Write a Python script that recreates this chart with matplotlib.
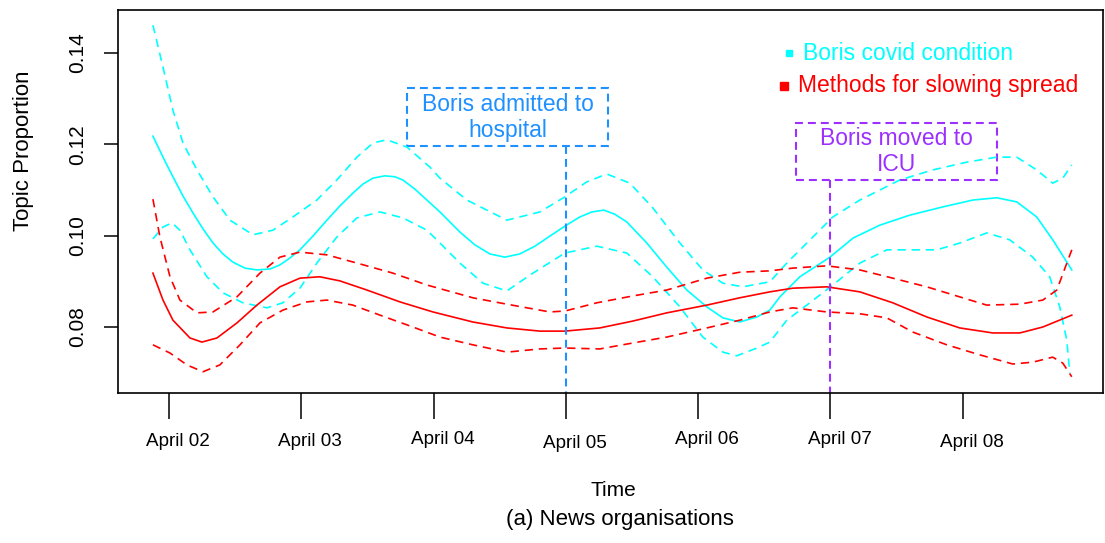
import matplotlib
matplotlib.use("Agg")
import matplotlib.pyplot as plt
from matplotlib.patches import Rectangle
from matplotlib.transforms import ScaledTranslation

plt.rcParams["font.family"] = ["Liberation Sans", "DejaVu Sans"]

# x is days after April 02 (0 = April 02)
tick_days = [0, 1, 2, 3, 4, 5, 6]
tick_labels = ["April 02", "April 03", "April 04", "April 05", "April 06", "April 07", "April 08"]

# Boris covid condition (cyan)
cyan_mean_x = [-0.121, -0.045, 0.030, 0.106, 0.181, 0.257, 0.333, 0.408, 0.484, 0.574, 0.665,
               0.763, 0.839, 0.914, 0.990, 1.088, 1.194, 1.292, 1.390, 1.466, 1.542, 1.632,
               1.708, 1.768, 1.859, 1.950, 2.048, 2.199, 2.312, 2.426, 2.539, 2.652, 2.766,
               2.879, 2.993, 3.106, 3.197, 3.287, 3.370, 3.461, 3.612, 3.763, 3.914, 4.066,
               4.187, 4.315, 4.444, 4.542, 4.618, 4.769, 4.996, 5.172, 5.373, 5.600, 5.849,
               6.076, 6.257, 6.408, 6.559, 6.680, 6.824]
cyan_mean = [0.1218, 0.1172, 0.1129, 0.1087, 0.1050, 0.1015, 0.0984, 0.0960, 0.0942, 0.0929,
             0.0925, 0.0927, 0.0936, 0.0951, 0.0969, 0.0999, 0.1034, 0.1065, 0.1093, 0.1113,
             0.1126, 0.1131, 0.1129, 0.1122, 0.1102, 0.1078, 0.1052, 0.1008, 0.0980, 0.0960,
             0.0953, 0.0960, 0.0977, 0.0999, 0.1021, 0.1041, 0.1052, 0.1056, 0.1047, 0.1030,
             0.0984, 0.0931, 0.0881, 0.0844, 0.0820, 0.0811, 0.0822, 0.0837, 0.0866, 0.0910,
             0.0953, 0.0995, 0.1023, 0.1045, 0.1063, 0.1078, 0.1083, 0.1074, 0.1041, 0.0991,
             0.0925]

cyan_upper_x = [-0.121, -0.045, 0.030, 0.106, 0.212, 0.333, 0.461, 0.635, 0.786, 0.937, 1.118,
                1.269, 1.421, 1.542, 1.647, 1.799, 1.973, 2.048, 2.252, 2.554, 2.804, 2.993,
                3.159, 3.310, 3.484, 3.657, 3.862, 4.035, 4.187, 4.338, 4.542, 4.670, 4.867,
                5.018, 5.222, 5.524, 5.773, 6.030, 6.257, 6.408, 6.559, 6.680, 6.756, 6.824]
cyan_upper = [0.1461, 0.1369, 0.1275, 0.1203, 0.1144, 0.1085, 0.1034, 0.1002, 0.1012, 0.1041,
              0.1078, 0.1122, 0.1172, 0.1203, 0.1210, 0.1194, 0.1150, 0.1126, 0.1078, 0.1034,
              0.1052, 0.1085, 0.1118, 0.1135, 0.1115, 0.1061, 0.0984, 0.0925, 0.0896, 0.0888,
              0.0899, 0.0940, 0.0997, 0.1041, 0.1078, 0.1122, 0.1144, 0.1161, 0.1172, 0.1172,
              0.1144, 0.1115, 0.1126, 0.1155]

cyan_lower_x = [-0.121, -0.045, 0.023, 0.083, 0.159, 0.287, 0.408, 0.559, 0.741, 0.861, 0.990,
                1.118, 1.269, 1.421, 1.595, 1.768, 1.950, 2.048, 2.199, 2.373, 2.554, 2.751,
                2.993, 3.234, 3.461, 3.657, 3.862, 4.035, 4.187, 4.293, 4.444, 4.542, 4.670,
                4.844, 5.018, 5.222, 5.426, 5.600, 5.804, 5.979, 6.181, 6.355, 6.529, 6.657,
                6.733, 6.786, 6.809]
cyan_lower = [0.0993, 0.1019, 0.1028, 0.1012, 0.0969, 0.0910, 0.0875, 0.0853, 0.0842, 0.0853,
              0.0885, 0.0940, 0.0997, 0.1039, 0.1052, 0.1039, 0.1012, 0.0984, 0.0940, 0.0896,
              0.0879, 0.0918, 0.0962, 0.0977, 0.0962, 0.0910, 0.0844, 0.0778, 0.0745, 0.0737,
              0.0754, 0.0767, 0.0815, 0.0853, 0.0892, 0.0940, 0.0969, 0.0969, 0.0969, 0.0984,
              0.1006, 0.0991, 0.0953, 0.0910, 0.0844, 0.0772, 0.0699]

# Methods for slowing spread (red)
red_mean_x = [-0.121, -0.045, 0.030, 0.159, 0.249, 0.363, 0.514, 0.665, 0.839, 0.990, 1.141,
              1.292, 1.496, 1.746, 1.995, 2.297, 2.554, 2.804, 2.993, 3.257, 3.506, 3.763,
              4.066, 4.315, 4.542, 4.715, 4.972, 5.222, 5.471, 5.728, 5.977, 6.227, 6.431,
              6.605, 6.824]
red_mean = [0.0918, 0.0859, 0.0815, 0.0776, 0.0767, 0.0776, 0.0809, 0.0848, 0.0888, 0.0907,
            0.0910, 0.0901, 0.0881, 0.0855, 0.0833, 0.0811, 0.0798, 0.0791, 0.0791, 0.0798,
            0.0813, 0.0831, 0.0848, 0.0864, 0.0877, 0.0885, 0.0888, 0.0877, 0.0853, 0.0822,
            0.0798, 0.0787, 0.0787, 0.0800, 0.0826]

red_upper_x = [-0.121, -0.068, 0.008, 0.083, 0.212, 0.333, 0.514, 0.688, 0.839, 0.990, 1.194,
               1.421, 1.693, 1.950, 2.297, 2.554, 2.879, 2.993, 3.234, 3.506, 3.763, 4.066,
               4.315, 4.542, 4.715, 4.972, 5.222, 5.471, 5.728, 5.977, 6.181, 6.431, 6.605,
               6.711, 6.824]
red_upper = [0.1080, 0.0997, 0.0910, 0.0859, 0.0831, 0.0833, 0.0866, 0.0918, 0.0953, 0.0964,
             0.0958, 0.0940, 0.0918, 0.0892, 0.0864, 0.0850, 0.0833, 0.0835, 0.0853, 0.0868,
             0.0881, 0.0907, 0.0920, 0.0923, 0.0929, 0.0934, 0.0925, 0.0907, 0.0888, 0.0866,
             0.0848, 0.0850, 0.0859, 0.0881, 0.0969]

red_lower_x = [-0.121, 0.008, 0.136, 0.257, 0.385, 0.537, 0.688, 0.861, 1.043, 1.194, 1.390,
               1.595, 1.844, 2.048, 2.297, 2.554, 2.804, 2.993, 3.257, 3.506, 3.763, 4.066,
               4.315, 4.542, 4.715, 4.972, 5.222, 5.426, 5.622, 5.879, 6.129, 6.378, 6.529,
               6.680, 6.756, 6.824]
red_lower = [0.0761, 0.0743, 0.0717, 0.0702, 0.0717, 0.0761, 0.0809, 0.0837, 0.0855, 0.0859,
             0.0848, 0.0826, 0.0800, 0.0778, 0.0761, 0.0745, 0.0752, 0.0754, 0.0752, 0.0765,
             0.0778, 0.0798, 0.0815, 0.0833, 0.0842, 0.0833, 0.0829, 0.0820, 0.0789, 0.0761,
             0.0739, 0.0719, 0.0723, 0.0734, 0.0721, 0.0691]

# event markers
hospital_day = 3.0
icu_day = 5.0

CYAN = "#00FFFF"
RED = "#FF0000"
BLUE = "#1E90FF"
PURPLE = "#9B30FF"

fig = plt.figure(figsize=(11.05, 5.43), dpi=100)
ax = fig.add_axes([118 / 1105, 1 - 393 / 543, 985 / 1105, 383 / 543])

dash = (0, (5, 3.5))
line_kw = dict(linewidth=1.2, solid_joinstyle="round", dash_joinstyle="round")
ax.plot(cyan_mean_x, cyan_mean, color=CYAN, **line_kw)
ax.plot(cyan_upper_x, cyan_upper, color=CYAN, linestyle=dash, **line_kw)
ax.plot(cyan_lower_x, cyan_lower, color=CYAN, linestyle=dash, **line_kw)
ax.plot(red_mean_x, red_mean, color=RED, **line_kw)
ax.plot(red_upper_x, red_upper, color=RED, linestyle=dash, **line_kw)
ax.plot(red_lower_x, red_lower, color=RED, linestyle=dash, **line_kw)

ax.set_xlim(-0.385, 7.06)
ax.set_ylim(0.06555, 0.14942)

# event boxes and vertical markers
box_dash = (0, (3.8, 2.4))
ax.add_patch(Rectangle((1.799, 0.11964), 3.317 - 1.799, 0.13234 - 0.11964, fill=False,
                       edgecolor=BLUE, linewidth=1.5, linestyle=box_dash))
ax.text(2.562, 0.12588, "Boris admitted to\nhospital", color=BLUE, fontsize=16.5,
        ha="center", va="center", linespacing=1.2)
ax.plot([hospital_day, hospital_day], [0.11964, 0.06555], color=BLUE, linewidth=1.5,
        linestyle=box_dash)

ax.add_patch(Rectangle((4.738, 0.11219), 6.257 - 4.738, 0.12467 - 0.11219, fill=False,
                       edgecolor=PURPLE, linewidth=1.5, linestyle=box_dash))
ax.text(5.501, 0.11843, "Boris moved to\nICU", color=PURPLE, fontsize=16.5,
        ha="center", va="center", linespacing=1.15)
ax.plot([icu_day, icu_day], [0.11219, 0.06555], color=PURPLE, linewidth=1.5,
        linestyle=box_dash)

# legend
ax.plot([0.6812], [0.8877], marker="s", markersize=5, color=CYAN, transform=ax.transAxes)
ax.text(0.6954, 0.8877, "Boris covid condition", color=CYAN, fontsize=16.5,
        ha="left", va="center", transform=ax.transAxes)
ax.plot([0.6761], [0.8016], marker="s", markersize=5.5, color=RED, transform=ax.transAxes)
ax.text(0.6904, 0.8016, "Methods for slowing spread", color=RED, fontsize=16.5,
        ha="left", va="center", transform=ax.transAxes)

# axes styling
for spine in ax.spines.values():
    spine.set_linewidth(1.2)

ax.set_xticks(tick_days)
ax.set_xticklabels(tick_labels, fontsize=13.6)
ax.tick_params(axis="x", length=19, width=1.1, pad=10)
label_shift = [0, 0, -2, 2, -2, -2, 1]
for lab, dy in zip(ax.get_xticklabels(), label_shift):
    lab.set_transform(lab.get_transform() + ScaledTranslation(0.09, -dy / 100, fig.dpi_scale_trans))

ax.set_yticks([0.08, 0.10, 0.12, 0.14])
ax.set_yticklabels(["0.08", "0.10", "0.12", "0.14"], fontsize=15)
ax.tick_params(axis="y", length=10, width=1.1, pad=12, labelrotation=90)
for lab in ax.get_yticklabels():
    lab.set_va("center")

fig.text(613 / 1105, 1 - 490 / 543, "Time", fontsize=15, ha="center", va="center")
fig.text(620 / 1105, 1 - 519 / 543, "(a) News organisations", fontsize=16, ha="center", va="center")
fig.text(24 / 1105, 1 - 151 / 543, "Topic Proportion", fontsize=16, ha="center", va="center",
         rotation=90)

fig.savefig("out.png", dpi=100)
